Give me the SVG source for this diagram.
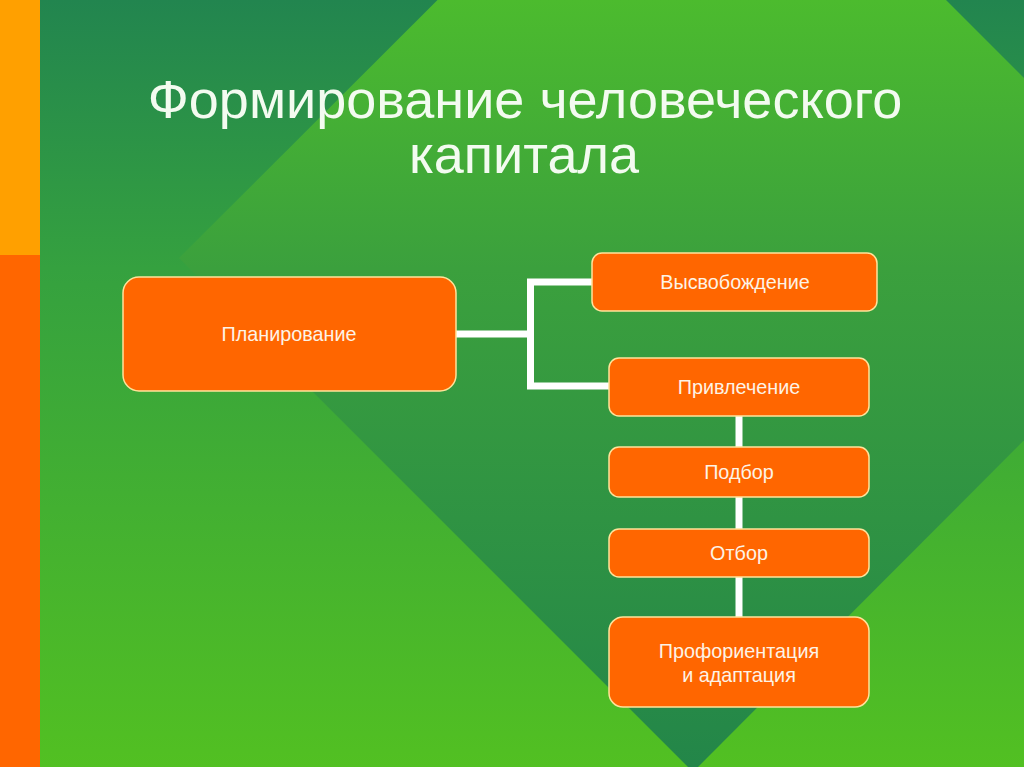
<svg xmlns="http://www.w3.org/2000/svg" width="1024" height="767" viewBox="0 0 1024 767">
<defs>
<linearGradient id="outer" x1="0" y1="0" x2="0" y2="767" gradientUnits="userSpaceOnUse">
<stop offset="0" stop-color="#22854f"/>
<stop offset="0.35" stop-color="#35a13f"/>
<stop offset="1" stop-color="#52c022"/>
</linearGradient>
<linearGradient id="inner" x1="0" y1="0" x2="0" y2="767" gradientUnits="userSpaceOnUse">
<stop offset="0" stop-color="#4cbb2e"/>
<stop offset="0.35" stop-color="#3ba03d"/>
<stop offset="1" stop-color="#238649"/>
</linearGradient>
<style>
.box{fill:#ff6600;stroke:#ffe39a;stroke-width:1.5}
.lbl{font-family:"Liberation Sans",Arial,sans-serif;font-size:19.8px;fill:#fdf3e6;text-anchor:middle}
.title{font-family:"Liberation Sans",Arial,sans-serif;font-size:54px;fill:#f3fbf0;text-anchor:middle}
.conn{stroke:#ffffff;stroke-width:7;fill:none}
</style>
</defs>
<rect x="0" y="0" width="1024" height="767" fill="url(#outer)"/>
<polygon points="692,-254 1205,259 693,772 179,258" fill="url(#inner)"/>
<rect x="0" y="0" width="40" height="255" fill="#ffa000"/>
<rect x="0" y="255" width="40" height="512" fill="#ff6600"/>
<g id="title">
<text class="title" x="525" y="118">Формирование человеческого</text>
<text class="title" x="524" y="173">капитала</text>
</g>
<g id="connectors">
<polyline class="conn" points="456,334 530.5,334"/>
<polyline class="conn" points="592,282 530.5,282 530.5,386 609,386"/>
<line class="conn" x1="739" y1="416" x2="739" y2="447"/>
<line class="conn" x1="739" y1="497" x2="739" y2="529"/>
<line class="conn" x1="739" y1="577" x2="739" y2="617"/>
</g>
<g id="node-planirovanie">
<rect class="box" x="123" y="277" width="333" height="114" rx="16"/>
<text class="lbl" x="289" y="341">Планирование</text>
</g>
<g id="node-vysvobozhdenie">
<rect class="box" x="592" y="253" width="285" height="58" rx="10"/>
<text class="lbl" x="735" y="289">Высвобождение</text>
</g>
<g id="node-privlechenie">
<rect class="box" x="609" y="358" width="260" height="58" rx="10"/>
<text class="lbl" x="739" y="394">Привлечение</text>
</g>
<g id="node-podbor">
<rect class="box" x="609" y="447" width="260" height="50" rx="10"/>
<text class="lbl" x="739" y="479">Подбор</text>
</g>
<g id="node-otbor">
<rect class="box" x="609" y="529" width="260" height="48" rx="10"/>
<text class="lbl" x="739" y="560">Отбор</text>
</g>
<g id="node-proforientatsiya">
<rect class="box" x="609" y="617" width="260" height="90" rx="14"/>
<text class="lbl" x="739" y="658">Профориентация</text>
<text class="lbl" x="739" y="682">и адаптация</text>
</g>
</svg>
